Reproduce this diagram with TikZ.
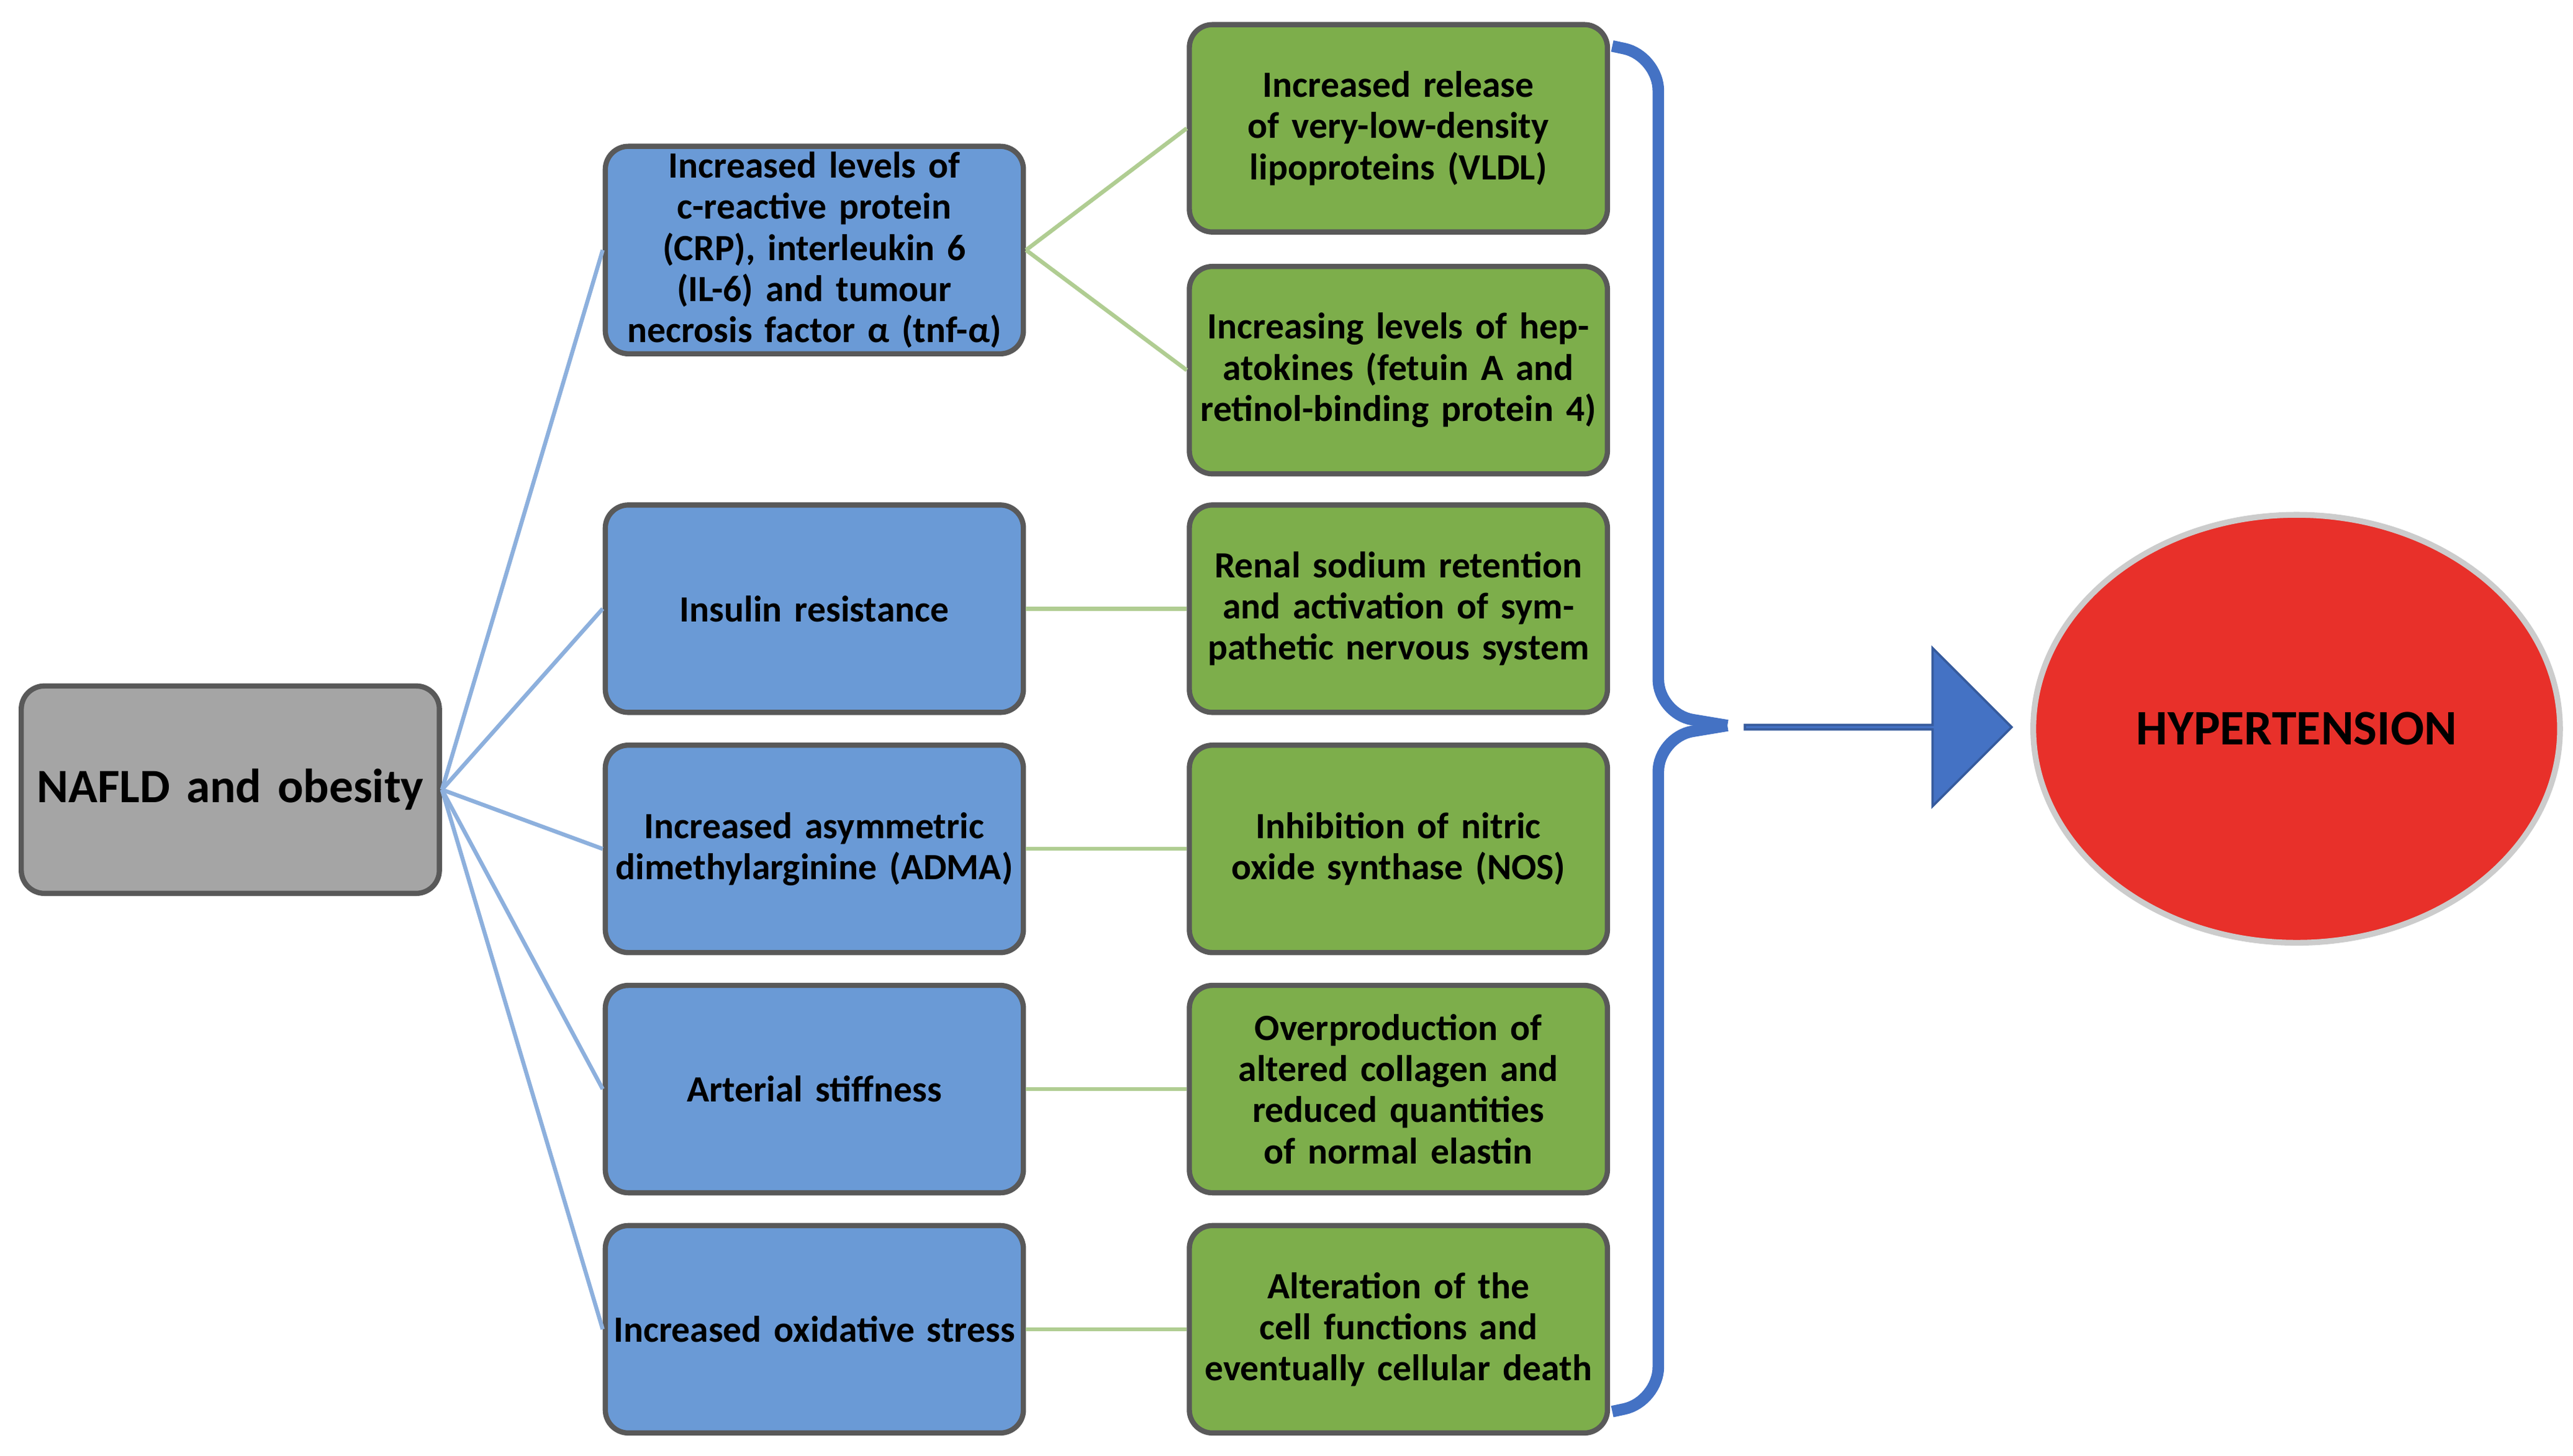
\documentclass[tikz,border=0pt]{standalone}
\usepackage{fontspec}
\setmainfont{Carlito}
\usetikzlibrary{positioning,shapes.arrows,shapes.geometric}
\definecolor{naflgray}{HTML}{A5A5A5}
\definecolor{mechblue}{HTML}{6A9AD6}
\definecolor{effgreen}{HTML}{7DAE4B}
\definecolor{linkblue}{HTML}{8DB0DD}
\definecolor{linkgreen}{HTML}{B0CD92}
\definecolor{bracecol}{HTML}{4472C4}
\definecolor{hyperred}{HTML}{E8302A}
\tikzset{
  box/.style={draw=black!65, line width=0.9pt, rounded corners=4pt, minimum width=2.54cm,
    minimum height=1.26cm, text width=2.45cm, align=center, inner sep=1pt,
    font=\bfseries\fontsize{6.4}{7.1}\selectfont},
  cause/.style={box, fill=mechblue},
  effect/.style={box, fill=effgreen},
  blink/.style={draw=linkblue, line width=0.7pt},
  glink/.style={draw=linkgreen, line width=0.7pt}
}
\begin{document}
\begin{tikzpicture}[x=0.01cm,y=-0.01cm]
        \useasboundingbox (0,0) rectangle (1564,885);
        % source
        \node[box, fill=naflgray, font=\bfseries\fontsize{8.3}{9}\selectfont] (nafld) at (140,480) {NAFLD and obesity};

        % mechanisms
        \node[cause] (crp) at (495,152) {Increased levels of c-reactive protein (CRP), interleukin 6 (IL-6) and tumour necrosis factor α (tnf-α)};
        \node[cause] (insulin) at (495,370) {Insulin resistance};
        \node[cause] (adma) at (495,516) {Increased asymmetric dimethylarginine (ADMA)};
        \node[cause] (stiff) at (495,662) {Arterial stiffness};
        \node[cause] (oxid) at (495,808) {Increased oxidative stress};

        % effects
        \node[effect] (vldl) at (850,78) {Increased release of very-low-density lipoproteins (VLDL)};
        \node[effect] (hepato) at (850,225) {Increasing levels of hepatokines (fetuin A and retinol-binding protein 4)};
        \node[effect] (renal) at (850,370) {Renal sodium retention and activation of sympathetic nervous system};
        \node[effect] (nos) at (850,516) {Inhibition of nitric oxide synthase (NOS)};
        \node[effect] (collagen) at (850,662) {Overproduction of altered collagen and reduced quantities of normal elastin};
        \node[effect] (death) at (850,808) {Alteration of the cell functions and eventually cellular death};

        % links
        \foreach \m in {crp,insulin,adma,stiff,oxid}
          \draw[blink] (nafld.east) -- (\m.west);
        \draw[glink] (crp.east) -- (vldl.west);
        \draw[glink] (crp.east) -- (hepato.west);
        \draw[glink] (insulin) -- (renal);
        \draw[glink] (adma) -- (nos);
        \draw[glink] (stiff) -- (collagen);
        \draw[glink] (oxid) -- (death);

        % brace
        \coordinate (btop) at (980,28);
        \coordinate (bbot) at (980,858);
        \coordinate (btip) at (1050,441);
        \draw[bracecol, line width=2pt, rounded corners=6pt] (btop) -- (1008,34) -- (1008,434) -- (btip);
        \draw[bracecol, line width=2pt, rounded corners=6pt] (bbot) -- (1008,852) -- (1008,448) -- (btip);

        % arrow and outcome
        \node[single arrow, fill=bracecol, draw=bracecol!80!black, minimum width=0.96cm,
          single arrow head extend=0.24cm, minimum height=1.62cm, inner sep=0pt,
          shape border rotate=0] (arrow) at (1141,442) {};
        \node[ellipse, fill=hyperred, draw=black!20, line width=1pt, minimum width=3.2cm,
          minimum height=2.6cm, inner sep=0pt, font=\bfseries\fontsize{8.6}{9}\selectfont] (hyper) at (1396,443) {HYPERTENSION};
\end{tikzpicture}
\end{document}
